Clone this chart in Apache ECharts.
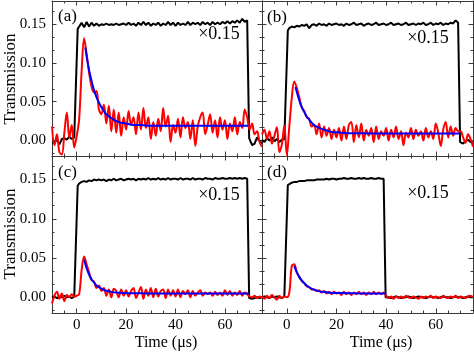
<!DOCTYPE html>
<html>
<head>
<meta charset="utf-8" />
<title>Transmission</title>
<script src="https://cdn.jsdelivr.net/npm/echarts@6/dist/echarts.min.js"></script>
<style>
  html, body { margin: 0; padding: 0; background: #fff; }
  #main { width: 474px; height: 354px; }
</style>
</head>
<body>
<div id="main"></div>
<script>
// ---- data ----
var tRed = [-10,-9,-8,-7,-6,-5,-4,-3,-2,-1,
  0,1,2,3,4,5,6,7,8,9,10,11,12,13,14,15,16,17,18,19,
  20,21,22,23,24,25,26,27,28,29,30,31,32,33,34,35,36,37,38,39,
  40,41,42,43,44,45,46,47,48,49,50,51,52,53,54,55,56,57,58,59,
  60,61,62,63,64,65,66,67,68,69,70,71,72,73,74,75];

var tBlk = [-10,-9,-8,-7,-6,-5,-4,-3,-2,-1,-0.3,0.4,
  1,2,3,4,5,6,7,8,9,10,11,12,13,14,15,16,17,18,19,20,
  21,22,23,24,25,26,27,28,29,30,31,32,33,34,35,36,37,38,39,40,
  41,42,43,44,45,46,47,48,49,50,51,52,53,54,55,56,57,58,59,60,
  61,62,63,64,65,66,67,68,69,69.8,71,72,73,74,75];

var tBlkD = [-10,-9,-8,-7,-6,-5,-4,-3,-2,-1,-0.3,0.4,
  1,2,3,4,5,6,7,8,9,10,11,12,13,14,15,16,17,18,19,20,
  21,22,23,24,25,26,27,28,29,30,31,32,33,34,35,36,37,38,39,39.8,
  41,42,43,44,45,46,47,48,49,50,51,52,53,54,55,56,57,58,59,60,
  61,62,63,64,65,66,67,68,69,70,71,72,73,74,75];

// panel (a)
var blackA = [-0.003,-0.002,0.001,-0.005,0.002,0.003,0.001,0.005,0.002,0.004,0.005,0.144,
  0.146,0.152,0.146,0.153,0.147,0.152,0.148,0.151,0.148,0.150,
  0.149,0.151,0.149,0.150,0.149,0.151,0.149,0.150,0.151,0.149,
  0.152,0.149,0.151,0.148,0.152,0.149,0.153,0.149,0.152,0.148,
  0.151,0.149,0.152,0.148,0.151,0.149,0.153,0.149,0.152,0.148,
  0.152,0.149,0.151,0.149,0.153,0.149,0.152,0.150,0.152,0.149,
  0.153,0.150,0.152,0.149,0.153,0.150,0.152,0.150,0.153,0.151,
  0.154,0.151,0.154,0.152,0.155,0.152,0.157,0.153,0.155,
  0.003,-0.006,-0.004,0.004,0.000,-0.004];
var redA = [0.018,-0.006,0.008,-0.015,-0.018,0.010,0.036,0.004,0.020,-0.009,
  0.006,0.028,0.090,0.132,0.112,0.088,0.070,0.062,0.064,0.040,
  0.034,0.046,0.022,0.045,0.012,0.040,0.010,0.036,0.006,0.030,
  0.014,0.038,0.020,0.030,0.008,0.036,0.014,0.042,0.016,0.030,
  0.002,0.024,0.006,0.028,0.012,0.042,0.018,0.032,-0.002,0.020,
  0.010,0.028,0.004,0.030,0.016,0.024,0.002,0.026,-0.007,0.018,
  0.030,0.036,0.008,0.020,0.034,0.010,0.026,0.004,0.030,0.014,
  0.026,0.002,0.022,0.012,0.030,0.008,0.024,0.016,0.040,0.030,
  0.014,0.022,0.008,0.012,-0.002,-0.008];
var tBlueA = [3.5,4,5,6,7,8,9,10,11,12,14,16,18,20,23,26,30,40,50,60,69.5];
var blueA = [0.120,0.109,0.091,0.077,0.065,0.056,0.049,0.043,0.038,0.034,0.029,0.025,0.023,0.022,0.020,0.020,0.019,0.019,0.019,0.019,0.019];

// panel (b)
var blackB = [0.001,-0.002,0.003,0.000,0.004,-0.001,0.002,-0.002,0.001,0.002,0.002,0.142,
  0.145,0.147,0.146,0.148,0.147,0.149,0.148,0.150,0.145,0.149,
  0.150,0.148,0.151,0.149,0.150,0.148,0.151,0.149,0.150,0.151,
  0.149,0.150,0.148,0.151,0.149,0.150,0.152,0.149,0.150,0.151,
  0.148,0.150,0.151,0.149,0.150,0.152,0.149,0.150,0.151,0.149,
  0.150,0.152,0.149,0.150,0.151,0.149,0.150,0.152,0.149,0.150,
  0.151,0.149,0.151,0.150,0.152,0.149,0.150,0.152,0.149,0.151,
  0.150,0.152,0.149,0.151,0.150,0.152,0.151,0.155,0.152,
  -0.002,-0.004,-0.001,0.001,-0.002,-0.003];
var redB = [0.008,0.014,0.002,0.012,-0.004,0.006,0.017,-0.015,-0.005,0.019,
  -0.019,0.018,0.055,0.076,0.068,0.056,0.043,0.038,0.030,0.028,
  0.018,0.020,0.008,0.022,0.004,0.018,0.006,0.016,0.002,0.014,
  0.004,0.016,0.000,0.018,0.002,0.020,0.024,-0.002,0.020,0.004,
  0.022,0.000,0.014,0.006,0.016,-0.002,0.018,0.002,0.012,0.006,
  0.016,0.000,0.014,0.004,0.018,0.002,0.012,-0.006,0.010,0.004,
  0.016,0.002,0.014,0.006,0.012,0.000,0.016,0.004,0.012,0.002,
  0.022,0.010,-0.007,0.014,0.024,0.004,0.018,0.006,0.016,0.012,
  0.012,0.004,-0.003,0.008,0.002,-0.008];
var tBlueB = [3.5,4,5,6,7,8,9,10,11,12,14,16,18,20,23,26,30,40,50,60,69.5];
var blueB = [0.069,0.063,0.052,0.043,0.037,0.031,0.027,0.023,0.020,0.018,0.015,0.013,0.011,0.0105,0.0098,0.0094,0.0092,0.009,0.009,0.009,0.009];

// panel (c)
var blackC = [0.000,0.001,-0.001,0.001,0.000,0.002,0.000,0.001,-0.001,0.001,0.001,0.142,
  0.145,0.147,0.148,0.147,0.149,0.148,0.150,0.149,0.150,0.149,
  0.150,0.148,0.150,0.149,0.151,0.149,0.150,0.151,0.149,0.150,
  0.151,0.150,0.151,0.149,0.151,0.150,0.151,0.150,0.152,0.150,
  0.151,0.150,0.152,0.150,0.151,0.150,0.152,0.150,0.151,0.151,
  0.150,0.152,0.150,0.151,0.151,0.150,0.152,0.150,0.151,0.151,
  0.150,0.152,0.151,0.151,0.150,0.152,0.151,0.151,0.152,0.151,
  0.151,0.152,0.151,0.152,0.151,0.152,0.151,0.152,0.151,
  -0.001,-0.002,-0.001,0.000,-0.001,0.000];
var redC = [-0.008,0.002,0.007,-0.002,0.005,-0.005,0.003,0.000,0.004,0.001,
  0.002,0.004,0.035,0.052,0.042,0.032,0.022,0.020,0.012,0.015,
  0.008,0.012,0.002,0.010,0.000,0.011,0.008,0.000,0.010,0.002,
  0.009,0.001,0.008,0.012,-0.001,0.006,0.013,-0.002,0.010,0.002,
  0.012,0.000,0.011,0.001,0.008,0.010,-0.001,0.010,0.002,0.009,
  0.001,0.010,0.000,0.008,0.004,0.009,0.000,0.008,0.002,0.006,
  0.009,0.002,0.006,0.004,0.006,0.002,0.007,0.003,0.006,0.002,
  0.009,0.003,0.008,0.002,0.006,0.003,0.008,0.002,0.006,0.004,
  0.001,0.000,0.002,-0.001,0.001,0.000];
var tBlueC = [3,4,5,6,7,8,9,10,11,12,14,16,18,20,25,30,40,50,60,69.5];
var blueC = [0.048,0.037,0.029,0.023,0.019,0.015,0.013,0.011,0.0094,0.0083,0.0069,0.006,0.0056,0.0053,0.0051,0.005,0.005,0.005,0.005,0.005];

// panel (d)
var blackD = [0.000,0.001,0.000,-0.001,0.001,0.000,0.001,0.000,-0.001,0.001,0.001,0.143,
  0.145,0.146,0.147,0.147,0.148,0.148,0.148,0.149,0.149,0.149,
  0.149,0.150,0.150,0.150,0.150,0.151,0.150,0.151,0.151,0.150,
  0.151,0.151,0.152,0.151,0.151,0.152,0.151,0.151,0.152,0.151,
  0.152,0.151,0.151,0.152,0.151,0.151,0.152,0.151,0.151,0.000,
  0.000,-0.001,0.000,0.001,0.000,-0.001,0.000,0.000,0.001,0.000,
  -0.001,0.000,0.001,0.000,0.000,-0.001,0.000,0.001,0.000,0.000,
  -0.001,0.000,0.001,0.000,0.000,-0.001,0.000,0.001,0.000,0.000,
  -0.001,0.000,0.001,0.000,0.000];
var redD = [0.001,-0.002,0.002,-0.001,0.003,0.000,-0.003,0.002,-0.001,0.001,
  0.000,0.006,0.040,0.042,0.032,0.026,0.021,0.018,0.014,0.013,
  0.010,0.010,0.008,0.009,0.006,0.008,0.005,0.007,0.004,0.007,
  0.005,0.006,0.003,0.007,0.004,0.006,0.003,0.006,0.004,0.007,
  0.004,0.006,0.003,0.006,0.004,0.007,0.004,0.006,0.004,0.006,
  0.002,-0.001,0.001,-0.002,0.001,-0.001,0.001,-0.001,0.002,0.000,
  -0.001,0.001,0.000,-0.002,0.001,-0.001,0.001,0.000,0.002,-0.001,
  0.001,0.000,-0.001,0.002,0.000,-0.001,0.001,0.000,0.002,-0.001,
  0.001,0.000,-0.001,0.001,0.002,0.000];
var tBlueD = [3,4,5,6,7,8,9,10,11,12,14,16,18,20,25,30,35,40];
var blueD = [0.040,0.032,0.026,0.0215,0.018,0.015,0.0128,0.0111,0.0097,0.0087,0.0072,0.0064,0.0058,0.0055,0.0051,0.005,0.005,0.005];

var xMajor = [0, 20, 40, 60];
var yMajor = [0, 0.05, 0.10, 0.15];

// ---- layout ----
var FONT = 'Liberation Serif';
var frame = '#3a3a3a';
var grids = [
  {left: 52, top: 1, width: 210, height: 155},
  {left: 262, top: 1, width: 211, height: 155},
  {left: 52, top: 156, width: 210, height: 157},
  {left: 262, top: 156, width: 211, height: 157}
];

var xMinor = [];
for (var v = -10; v <= 75; v += 5) xMinor.push(v);
var yMinor = [];
for (var k = -1; k <= 10; k++) yMinor.push(Math.round(k * 0.05 / 3 * 1e6) / 1e6);

var xAxis = [], yAxis = [];
function addAxes(gi, showX, showY) {
  var xi = xAxis.length, yi = yAxis.length;
  function ax(lim, p, line, ticks, len, label) {
    return Object.assign({
      type: 'value', gridIndex: gi, position: p, splitLine: {show: false},
      axisLine: {show: line, onZero: false, lineStyle: {color: frame, width: 1}},
      axisTick: {show: true, inside: true, length: len, customValues: ticks, lineStyle: {color: frame}},
      axisLabel: label || {show: false}
    }, lim);
  }
  var xl = {min: -10, max: 75}, yl = {min: -0.02, max: 0.18};
  var xLab = showX ? {show: true, customValues: xMajor, margin: 5,
    fontFamily: FONT, fontSize: 15, color: '#000'} : null;
  var yLab = showY ? {show: true, customValues: yMajor, margin: 6,
    fontFamily: FONT, fontSize: 15, color: '#000',
    formatter: function (val) { return val.toFixed(2); }} : null;
  xAxis.push(ax(xl, 'bottom', true, xMajor, 4.5, xLab));
  xAxis.push(ax(xl, 'bottom', false, xMinor, 2.5));
  xAxis.push(ax(xl, 'top', true, xMajor, 4.5));
  xAxis.push(ax(xl, 'top', false, xMinor, 2.5));
  yAxis.push(ax(yl, 'left', true, yMajor, 4.5, yLab));
  yAxis.push(ax(yl, 'left', false, yMinor, 2.5));
  yAxis.push(ax(yl, 'right', true, yMajor, 4.5));
  yAxis.push(ax(yl, 'right', false, yMinor, 2.5));
  return {x: xi, y: yi};
}

function zip(ts, vs) {
  var out = [];
  for (var i = 0; i < ts.length; i++) out.push([ts[i], vs[i]]);
  return out;
}

var panels = [
  {tb: tBlk, black: blackA, red: redA, tblue: tBlueA, blue: blueA, showX: false, showY: true},
  {tb: tBlk, black: blackB, red: redB, tblue: tBlueB, blue: blueB, showX: false, showY: false},
  {tb: tBlk, black: blackC, red: redC, tblue: tBlueC, blue: blueC, showX: true, showY: true},
  {tb: tBlkD, black: blackD, red: redD, tblue: tBlueD, blue: blueD, showX: true, showY: false}
];

var series = [];
panels.forEach(function (p, gi) {
  var a = addAxes(gi, p.showX, p.showY);
  series.push({type: 'line', xAxisIndex: a.x, yAxisIndex: a.y, data: zip(p.tb, p.black),
    showSymbol: false, smooth: false, lineStyle: {color: '#000', width: 2}, z: 2});
  series.push({type: 'line', xAxisIndex: a.x, yAxisIndex: a.y, data: zip(tRed, p.red),
    showSymbol: false, smooth: 0.35, lineStyle: {color: '#ff0000', width: 2}, z: 3});
  series.push({type: 'line', xAxisIndex: a.x, yAxisIndex: a.y, data: zip(p.tblue, p.blue),
    showSymbol: false, smooth: true, lineStyle: {color: '#0000ff', width: 2}, z: 4});
});

function txt(x, y, s, size, align, rot) {
  return {type: 'text', x: x, y: y, rotation: rot || 0, z: 10,
    style: {text: s, fontFamily: FONT, fontSize: size, fill: '#000',
      align: align || 'center', verticalAlign: 'middle'}};
}

var graphic = [
  txt(58, 17, '(a)', 17, 'left'),
  txt(267, 18, '(b)', 17, 'left'),
  txt(58, 173, '(c)', 17, 'left'),
  txt(267, 173, '(d)', 17, 'left'),
  txt(219, 34, '\u00d70.15', 18),
  txt(428, 38, '\u00d70.15', 18),
  txt(219, 195, '\u00d70.15', 18),
  txt(428, 193, '\u00d70.15', 18),
  txt(11, 79, 'Transmission', 17, 'center', Math.PI / 2),
  txt(11, 234, 'Transmission', 17, 'center', Math.PI / 2),
  txt(166, 343, 'Time (\u03bcs)', 16),
  txt(381, 343, 'Time (\u03bcs)', 16)
];

var myChart = echarts.init(document.getElementById('main'));
myChart.setOption({
  animation: false,
  backgroundColor: '#fff',
  grid: grids,
  xAxis: xAxis,
  yAxis: yAxis,
  series: series,
  graphic: graphic
});
</script>
</body>
</html>
